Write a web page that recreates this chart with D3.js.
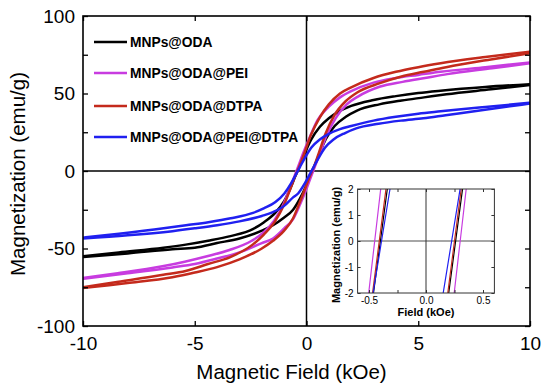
<!DOCTYPE html>
<html>
<head>
<meta charset="utf-8">
<script src="https://cdnjs.cloudflare.com/ajax/libs/d3/7.8.5/d3.min.js"></script>
<style>
  body { margin: 0; background: #fff; }
  svg { display: block; font-family: "Liberation Sans", Arial, sans-serif; }
</style>
</head>
<body>
<script>
// sample names and line colours (legend order)
const samples = ['MNPs@ODA', 'MNPs@ODA@PEI', 'MNPs@ODA@DTPA', 'MNPs@ODA@PEI@DTPA'];
const colors = ['#000000', '#c83ce0', '#c42a1c', '#2020f0'];

// [field (kOe), magnetization (emu/g)] read off the loops
// "down" = branch swept from +10 to -10, "up" = branch swept from -10 to +10
const odaDown = [[10,56],[8,54.2],[6,51.8],[5,50.3],[4,48.3],[3,45.8],[2,42],[1.4,38],[1,34],[0.6,28.5],[0.2,20],[-0.1,10.5],[-0.3,3.3],[-0.4,0],[-0.5,-3.3],[-0.7,-10.5],[-1,-19.5],[-1.4,-27],[-1.9,-33],[-2.4,-37.5],[-3.4,-42],[-4.4,-45],[-5.4,-47.5],[-6.4,-49.5],[-8.4,-52.5],[-10,-55]];
const odaUp = [[-10,-55.5],[-8,-53.2],[-6,-50.5],[-5,-49.5],[-4,-46.5],[-3,-43.5],[-2,-38.5],[-1.5,-35],[-1,-30],[-0.6,-25],[-0.3,-18],[0,-9],[0.16,-3.3],[0.26,0],[0.36,3.3],[0.56,10.5],[0.86,20.5],[1.26,29],[1.76,35],[2.26,39],[3.26,43],[4.26,45.5],[5.26,47.5],[6.26,49.5],[8.26,52.7],[10,55.5]];

const peiDown = [[10,70],[8,67],[6,64],[5,62],[4,60],[3,57],[2,51.5],[1.5,47.5],[1,41.5],[0.5,33],[0.15,22],[-0.15,11.5],[-0.35,3.8],[-0.45,0],[-0.55,-3.8],[-0.75,-11.5],[-1.05,-22],[-1.45,-32],[-1.95,-40],[-2.45,-45],[-3.45,-51],[-4.45,-55],[-5.45,-58.5],[-6.45,-61.5],[-8.45,-66],[-10,-69]];
const peiUp = [[-10,-69.5],[-8,-66],[-6,-62.2],[-5,-60],[-4,-56.5],[-3,-52.5],[-2,-46.5],[-1.5,-43.5],[-1,-37],[-0.6,-31],[-0.3,-22],[0,-11.5],[0.2,-3.8],[0.3,0],[0.4,3.8],[0.6,11.5],[0.9,23],[1.3,34],[1.8,43],[2.3,48],[3.3,54.5],[4.3,57.5],[5.3,60],[6.3,62.5],[8.3,66.3],[10,69.5]];

const dtpaDown = [[10,77],[8,73.5],[6,69.5],[5,67],[4,64],[3,60],[2,54],[1.5,50],[1,43],[0.59,34.5],[0.19,23],[-0.11,11],[-0.31,3.4],[-0.41,0],[-0.51,-3.4],[-0.71,-11],[-1.01,-22],[-1.41,-32.5],[-1.91,-41],[-2.41,-47.5],[-3.41,-55.5],[-4.41,-60],[-5.41,-64.5],[-6.41,-67],[-8.41,-71.5],[-10,-75]];
const dtpaUp = [[-10,-75.5],[-8,-72.3],[-6,-68.5],[-5,-65.5],[-4,-62],[-3,-57],[-2,-50],[-1.5,-45],[-1,-38.5],[-0.6,-30.5],[-0.35,-22],[-0.05,-11],[0.15,-3.4],[0.25,0],[0.35,3.4],[0.55,11.5],[0.85,24],[1.25,36],[1.75,45],[2.25,50.5],[3.25,56.5],[4.25,61],[5.25,64],[6.25,67],[8.25,72],[10,76]];

const bothDown = [[10,44],[8,41.3],[6,38.5],[5,37],[4,35],[3,32.5],[2,29],[1.5,27],[1,24],[0.61,20.5],[0.21,15],[-0.09,8],[-0.29,2.7],[-0.39,0],[-0.49,-2.7],[-0.69,-8],[-0.99,-14.5],[-1.39,-20],[-1.89,-24],[-2.39,-27],[-3.39,-30.5],[-4.39,-33],[-5.39,-35],[-6.39,-37],[-8.39,-40.5],[-10,-43]];
const bothUp = [[-10,-43.5],[-8,-41.5],[-6,-38.8],[-5,-37],[-4,-35],[-3,-32.5],[-2,-29],[-1.5,-26.5],[-1,-22.5],[-0.6,-17],[-0.375,-14.5],[-0.075,-8],[0.125,-2.7],[0.225,0],[0.325,2.7],[0.525,8],[0.825,15],[1.225,20.5],[1.725,24.5],[2.225,27.5],[3.225,30.5],[4.225,32.5],[5.225,34],[6.225,36],[8.225,40],[10,43.5]];

const loops = [[odaDown, odaUp], [peiDown, peiUp], [dtpaDown, dtpaUp], [bothDown, bothUp]];

const fieldTicks = [-10, -5, 0, 5, 10];
const magTicks = [-100, -75, -50, -25, 0, 25, 50, 75, 100];
const insetFieldTicks = [-0.5, -0.25, 0, 0.25, 0.5];
const insetMagTicks = [-2, -1, 0, 1, 2];

const width = 550, height = 387;
const plotL = 83, plotR = 530, plotT = 16, plotB = 326;

const svg = d3.select('body').append('svg')
  .attr('width', width)
  .attr('height', height);

const x = d3.scaleLinear().domain([-10, 10]).range([plotL, plotR]);
const y = d3.scaleLinear().domain([-100, 100]).range([plotB, plotT]);

svg.append('defs').append('clipPath').attr('id', 'main-clip')
  .append('rect')
  .attr('x', plotL).attr('y', plotT)
  .attr('width', plotR - plotL).attr('height', plotB - plotT);

// zero lines
svg.append('line')
  .attr('x1', x(0)).attr('x2', x(0)).attr('y1', plotT).attr('y2', plotB)
  .attr('stroke', '#000').attr('stroke-width', 1.5);
svg.append('line')
  .attr('x1', plotL).attr('x2', plotR).attr('y1', y(0)).attr('y2', y(0))
  .attr('stroke', '#000').attr('stroke-width', 1.5);

const line = d3.line()
  .x(d => x(d[0]))
  .y(d => y(d[1]))
  .curve(d3.curveMonotoneX);

const curves = svg.append('g').attr('clip-path', 'url(#main-clip)');
loops.forEach((branches, i) => {
  branches.forEach(b => {
    curves.append('path')
      .datum(b.slice().sort((a, c) => a[0] - c[0]))
      .attr('d', line)
      .attr('fill', 'none')
      .attr('stroke', colors[i])
      .attr('stroke-width', 2.5)
      .attr('stroke-linejoin', 'round');
  });
});

// axes, ticks pointing inward on all four sides; frame drawn as a rect
const fmt = d => String(d);
const xAxis = d3.axisBottom(x).tickValues(fieldTicks).tickSize(-5).tickPadding(11).tickFormat(fmt);
const xTop = d3.axisTop(x).tickValues(fieldTicks).tickSize(-5).tickFormat('');
const yAxis = d3.axisLeft(y).tickValues(magTicks).tickSize(-5).tickPadding(8)
  .tickFormat(d => d % 50 === 0 ? String(d) : '');
const yRight = d3.axisRight(y).tickValues(magTicks).tickSize(-5).tickFormat('');

const styleAxis = (g, size, stroke) => {
  g.select('.domain').remove();
  g.selectAll('.tick line').attr('stroke', stroke).attr('stroke-width', 1.3);
  g.selectAll('text').attr('font-size', size).attr('fill', '#000')
    .attr('font-family', '"Liberation Sans", Arial, sans-serif');
};

svg.append('g').attr('transform', `translate(0,${plotB})`).call(xAxis).call(styleAxis, 19, '#000');
svg.append('g').attr('transform', `translate(0,${plotT})`).call(xTop).call(styleAxis, 19, '#000');
svg.append('g').attr('transform', `translate(${plotL},0)`).call(yAxis).call(styleAxis, 19, '#000');
svg.append('g').attr('transform', `translate(${plotR},0)`).call(yRight).call(styleAxis, 19, '#000');

svg.append('rect')
  .attr('x', plotL).attr('y', plotT)
  .attr('width', plotR - plotL).attr('height', plotB - plotT)
  .attr('fill', 'none').attr('stroke', '#000').attr('stroke-width', 1.6);

svg.append('text')
  .attr('x', (plotL + plotR) / 2 - 15)
  .attr('y', 379)
  .attr('text-anchor', 'middle')
  .attr('font-size', 20.5)
  .text('Magnetic Field (kOe)');

svg.append('text')
  .attr('transform', 'translate(25,174) rotate(-90)')
  .attr('text-anchor', 'middle')
  .attr('font-size', 20.5)
  .text('Magnetization (emu/g)');

// legend
const legend = svg.append('g');
const legendY = [42, 73, 106, 137];
samples.forEach((name, i) => {
  legend.append('line')
    .attr('x1', 94).attr('x2', 127)
    .attr('y1', legendY[i]).attr('y2', legendY[i])
    .attr('stroke', colors[i]).attr('stroke-width', 2.5);
  legend.append('text')
    .attr('x', 130).attr('y', legendY[i] + 5)
    .attr('font-size', 13.8)
    .attr('font-weight', 'bold')
    .text(name);
});

// inset: zoom on the coercive field region
const ix = d3.scaleLinear().domain([-0.6, 0.6]).range([357.6, 494.4]);
const iy = d3.scaleLinear().domain([-2, 2]).range([293, 189]);

svg.select('defs').append('clipPath').attr('id', 'inset-clip')
  .append('rect')
  .attr('x', ix(-0.6)).attr('y', iy(2))
  .attr('width', ix(0.6) - ix(-0.6)).attr('height', iy(-2) - iy(2));

const inset = svg.append('g');
inset.append('rect')
  .attr('x', ix(-0.6)).attr('y', iy(2))
  .attr('width', ix(0.6) - ix(-0.6)).attr('height', iy(-2) - iy(2))
  .attr('fill', '#fff');

inset.append('line')
  .attr('x1', ix(-0.6)).attr('x2', ix(0.6)).attr('y1', iy(0)).attr('y2', iy(0))
  .attr('stroke', '#888').attr('stroke-width', 1.3);
inset.append('line')
  .attr('x1', ix(0)).attr('x2', ix(0)).attr('y1', iy(2)).attr('y2', iy(-2))
  .attr('stroke', '#333').attr('stroke-width', 1);

const iline = d3.line()
  .x(d => ix(d[0]))
  .y(d => iy(d[1]));

const insetCurves = inset.append('g').attr('clip-path', 'url(#inset-clip)');
loops.forEach((branches, i) => {
  branches.forEach(b => {
    insetCurves.append('path')
      .datum(b.slice().sort((a, c) => a[0] - c[0]))
      .attr('d', iline)
      .attr('fill', 'none')
      .attr('stroke', colors[i])
      .attr('stroke-width', 1.2);
  });
});

const ixAxis = d3.axisBottom(ix).tickValues(insetFieldTicks).tickSize(-3).tickPadding(4)
  .tickFormat(d => Math.abs(d * 2 % 1) < 1e-9 ? d3.format('.1f')(d).replace('−', '-') : '');
const ixTop = d3.axisTop(ix).tickValues(insetFieldTicks).tickSize(-3).tickFormat('');
const iyAxis = d3.axisLeft(iy).tickValues(insetMagTicks).tickSize(-3).tickPadding(4).tickFormat(fmt);
const iyRight = d3.axisRight(iy).tickValues(insetMagTicks).tickSize(-3).tickFormat('');

inset.append('g').attr('transform', `translate(0,${iy(-2)})`).call(ixAxis).call(styleAxis, 10, '#333');
inset.append('g').attr('transform', `translate(0,${iy(2)})`).call(ixTop).call(styleAxis, 10, '#333');
inset.append('g').attr('transform', `translate(${ix(-0.6)},0)`).call(iyAxis).call(styleAxis, 10, '#333');
inset.append('g').attr('transform', `translate(${ix(0.6)},0)`).call(iyRight).call(styleAxis, 10, '#333');
inset.selectAll('.tick line').attr('stroke-width', 1);

inset.append('rect')
  .attr('x', ix(-0.6)).attr('y', iy(2))
  .attr('width', ix(0.6) - ix(-0.6)).attr('height', iy(-2) - iy(2))
  .attr('fill', 'none').attr('stroke', '#333').attr('stroke-width', 1);

inset.append('text')
  .attr('x', ix(0)).attr('y', 316)
  .attr('text-anchor', 'middle')
  .attr('font-size', 11)
  .attr('font-weight', 'bold')
  .text('Field (kOe)');

inset.append('text')
  .attr('transform', `translate(340,${iy(0) + 4}) rotate(-90)`)
  .attr('text-anchor', 'middle')
  .attr('font-size', 11)
  .attr('font-weight', 'bold')
  .text('Magnetization (emu/g)');
</script>
</body>
</html>
